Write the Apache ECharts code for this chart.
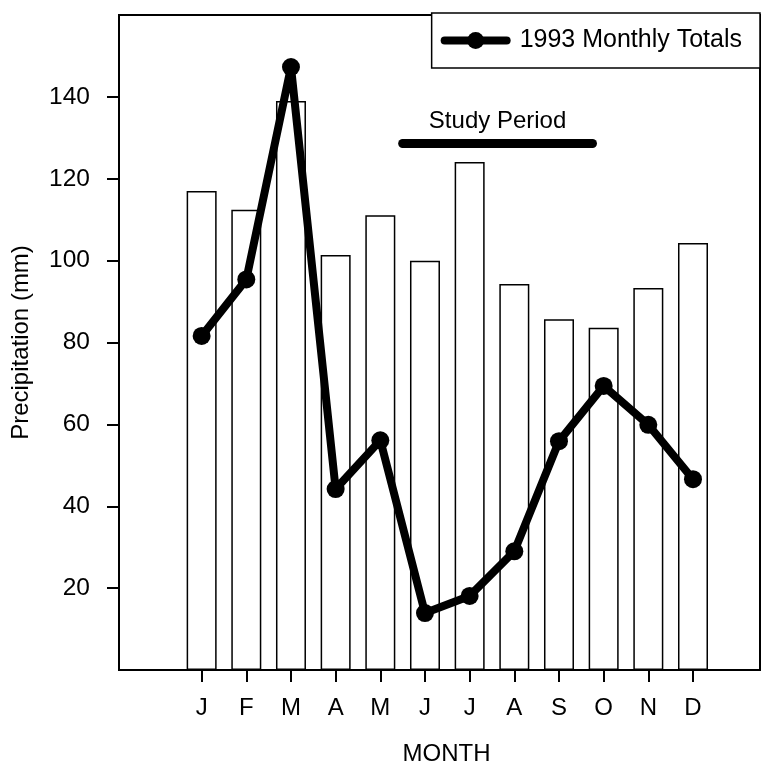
<!DOCTYPE html>
<html>
<head>
<meta charset="utf-8">
<style>
  html, body { margin: 0; padding: 0; background: #fff; }
  #chart { width: 763px; height: 771px; }
</style>
<script src="https://cdn.jsdelivr.net/npm/echarts@6/dist/echarts.min.js"></script>
</head>
<body>
<div id="chart"></div>
<script>
// months along the bottom axis
const months = ['J', 'F', 'M', 'A', 'M', 'J', 'J', 'A', 'S', 'O', 'N', 'D']
// open bars
const barValues = [117, 112.4, 139, 101.4, 111.1, 100, 124.1, 94.3, 85.7, 83.6, 93.3, 104.3]
// 1993 monthly totals line
const lineValues = [81.6, 95.4, 147.3, 44.2, 56.1, 13.9, 18.1, 29.0, 55.9, 69.4, 59.9, 46.6]
const yTicks = [20, 40, 60, 80, 100, 120, 140]
const monthTicks = months.map((m, i) => i + 1)
// study period bar: from / to (month position) and level (mm)
const studyPeriod = [5.5, 9.75]
const studyLevel = 128.6

const font = "'Liberation Sans', Arial, Helvetica, sans-serif"
const chart = echarts.init(document.getElementById('chart'))

const option = {
    backgroundColor: '#fff',
    animation: false,
    textStyle: { fontFamily: font, color: '#000' },
    legend: {
        data: ['1993 Monthly Totals'],
        right: 3,
        top: 13,
        orient: 'horizontal',
        padding: [15, 18, 15, 9],
        itemWidth: 62,
        itemHeight: 21,
        borderColor: '#000',
        borderWidth: 1.5,
        backgroundColor: '#fff',
        lineStyle: { width: 8, color: '#000', cap: 'round' },
        itemStyle: { color: '#000' },
        textStyle: { fontSize: 25, color: '#000', fontFamily: font, padding: [0, 0, 0, 8] }
    },
    grid: {
        left: 119, right: 3, top: 15, height: 659,
        show: true, borderColor: '#000', borderWidth: 2, backgroundColor: 'transparent'
    },
    xAxis: {
        type: 'value',
        min: -0.85,
        max: 13.5,
        name: 'MONTH',
        nameLocation: 'middle',
        nameGap: 72,
        nameTextStyle: { fontSize: 24, color: '#000', fontFamily: font, padding: [0, 0, 0, 14] },
        splitLine: { show: false },
        axisLine: { onZero: false, lineStyle: { color: '#000', width: 2 } },
        axisTick: { customValues: monthTicks, length: 12, lineStyle: { color: '#000', width: 2 } },
        axisLabel: {
            customValues: monthTicks,
            margin: 26,
            fontSize: 24,
            color: '#000',
            fontFamily: font,
            formatter: v => months[v - 1]
        }
    },
    yAxis: {
        type: 'value',
        min: 0,
        max: 160,
        name: 'Precipitation (mm)',
        nameLocation: 'middle',
        nameGap: 86,
        nameTextStyle: { fontSize: 24, color: '#000', fontFamily: font },
        splitLine: { show: false },
        axisLine: { onZero: false, lineStyle: { color: '#000', width: 2 } },
        axisTick: { customValues: yTicks, length: 12, lineStyle: { color: '#000', width: 2 } },
        axisLabel: { customValues: yTicks, margin: 29, fontSize: 24.5, color: '#000', fontFamily: font }
    },
    series: [
        {
            name: 'bars',
            type: 'bar',
            barWidth: 30,
            data: barValues.map((v, i) => [i + 1, v]),
            itemStyle: { color: '#fff', borderColor: '#000', borderWidth: 1.5 },
            silent: true,
            markLine: {
                silent: true,
                symbol: ['none', 'none'],
                lineStyle: { color: '#000', width: 9, type: 'solid', cap: 'round' },
                label: {
                    show: true,
                    position: 'insideMiddleTop',
                    formatter: 'Study Period',
                    distance: 10,
                    fontSize: 24,
                    color: '#000',
                    fontFamily: font
                },
                data: [[
                    { coord: [studyPeriod[0], studyLevel] },
                    { coord: [studyPeriod[1], studyLevel] }
                ]]
            }
        },
        {
            name: '1993 Monthly Totals',
            type: 'line',
            data: lineValues.map((v, i) => [i + 1, v]),
            symbol: 'circle',
            symbolSize: 18,
            z: 5,
            lineStyle: { color: '#000', width: 8 },
            itemStyle: { color: '#000' }
        }
    ]
}
chart.setOption(option)
</script>
</body>
</html>
